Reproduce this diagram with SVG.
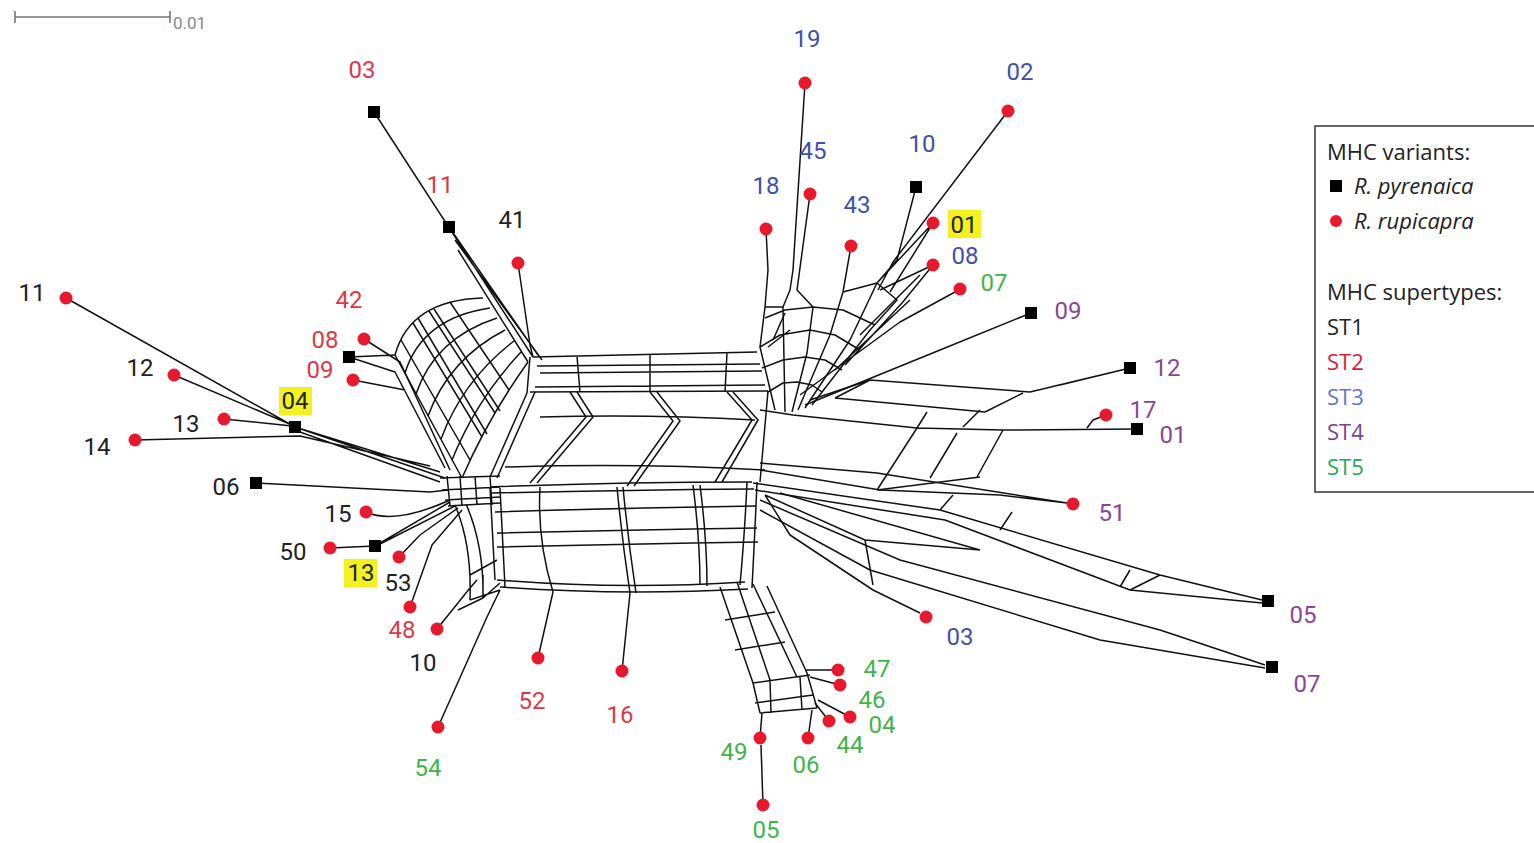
<svg xmlns="http://www.w3.org/2000/svg" width="1534" height="843" viewBox="0 0 1534 843">
<style>
.e{fill:none;stroke:#111;stroke-width:1.5;stroke-linejoin:round}
.sq{fill:#000}
.ci{fill:#e8192c}
text{font-family:Roboto,"Liberation Sans",sans-serif;font-size:24px;text-anchor:middle}
.k{fill:#222}.r{fill:#d83a48}.b{fill:#3f4fb0}.p{fill:#8a4696}.g{fill:#42b34c}
.hl{fill:#f4f21e}
.lg{font-family:"Open Sans","Liberation Sans",sans-serif;font-size:22px;text-anchor:start}
</style>
<rect width="1534" height="843" fill="#fff"/>
<g id="scale">
<path d="M15,17 L170,17 M15,11 L15,23 M170,11 L170,23" stroke="#777" stroke-width="1.6" fill="none"/>
<text x="173" y="29" style="font-size:17px;text-anchor:start;fill:#888">0.01</text>
</g>
<g id="connectors" class="e">
<!-- 11/03 bundle and top-left -->
<path d="M374,112 L533,357 M449,227 L538,355 M455,240 L542,360 M458,250 L528,362"/>
<path d="M518,263 L530,345 L533,357"/>
<!-- left wing -->
<path d="M395,355 Q410,300 483,298 M405,373 Q422,318 490,308 M416,394 Q435,338 497,318 M428,416 Q449,359 505,330 M441,439 Q463,380 514,341 M452,460 Q476,400 521,352 M462,478 Q488,418 528,362"/>
<path d="M401,340 L470,460 M413,323 L482,437 M418,318 L487,434 M429,311 L495,413 M434,309 L500,411 M450,302 L509,390 M395,355 L462,478"/>
<path d="M364,339 L400,362 L450,470 M349,357 L395,372 L445,468 M353,380 L405,390 M349,357 L395,355"/>
<!-- left leaves -->
<path d="M66,298 L295,427 L440,472 M174,375 L292,425 M224,419 L292,426 M295,427 L445,478 M300,432 L440,482 M135,440 L300,436 L430,466 M256,483 L430,492 L448,490"/>
<path d="M366,512 Q395,525 450,500 M330,548 L375,546 M375,546 L450,502 M380,544 L455,506 M399,557 L420,535 L458,508 M410,607 L432,545 L462,510"/>
<!-- left hub knot -->
<path d="M440,478 L500,476 M442,490 L500,487 M445,500 L500,497 M448,506 L500,503 M447,476 L450,506 M460,476 L462,506 M475,476 L477,505 M490,477 L492,505"/>
<!-- bottom-left corner -->
<path d="M455,505 Q472,545 470,600 M466,504 Q484,545 483,598 M470,575 L497,560 M470,600 L500,590 M458,610 L483,598 M483,598 L500,583 M437,629 L470,588 L477,580 M438,727 L487,617 L500,590 M483,575 L483,598"/>
<!-- top band -->
<path d="M533,357 L757,352 M537,366 L760,364 M540,373 L762,371 M535,387 L765,385 M530,392 L768,391 M577,356 L580,392 M650,355 L650,392 M727,353 L725,392 M530,357 L527,393"/>
<!-- middle -->
<path d="M527,393 L490,477 M535,392 L497,478 M540,417 Q650,414 755,420 M505,467 Q640,463 765,470"/>
<path d="M577,392 L593,417 L537,483 M570,392 L586,417 L530,483 M650,392 L673,421 L627,486 M657,392 L680,421 L634,486 M727,392 L752,420 L715,482 M733,392 L758,420 L722,482 M768,391 L760,482"/>
<!-- lower box -->
<path d="M490,487 Q620,482 752,482 M492,493 Q620,490 754,489 M495,512 Q620,508 756,506 M497,533 Q620,530 757,528 M497,547 Q620,544 758,542 M497,580 Q620,590 745,582 M500,587 Q620,596 748,589"/>
<path d="M490,487 L495,580 M500,488 L505,587 M540,487 Q537,540 553,592 M617,487 Q622,540 630,593 M623,487 Q628,540 636,593 M693,485 Q700,540 700,585 M700,485 Q707,540 707,586 M747,482 Q745,530 740,585 M757,482 Q755,530 752,588"/>
<path d="M553,592 L538,658 M630,593 L622,671"/>
<!-- bottom arm -->
<path d="M720,587 L753,683 M737,582 L770,680 M753,584 L797,677 M767,586 L807,673 M753,683 L810,675 M755,703 L813,695 M760,713 L817,708 M753,683 L760,713 M770,680 L771,713 M800,677 L802,710 M807,673 L817,708 M725,620 L775,612 M735,650 L785,642"/>
<path d="M760,738 L762,713 M763,805 L761,745 M808,738 L812,710 M829,721 L815,703 M850,717 L818,700 M840,685 L810,677 M838,670 L805,670"/>
<!-- upper-right arm -->
<path d="M766,229 L768,270 L765,307 L760,347 L775,410 M805,83 L793,270 L790,290 L783,307 L785,412 M810,194 L797,290 L813,307 L807,353 L792,412 M851,246 L843,292 L830,335 L798,410 M843,292 L877,283 L850,340 L805,408 M877,283 L897,300 L870,330 L812,405"/>
<path d="M768,392 L783,383 L797,382 L812,385 L822,392 M762,368 L783,360 L805,357 L825,360 L842,370 M760,347 L780,335 L810,330 L835,335 L860,350 M765,318 L785,310 L813,307 L843,310 L875,325 M765,307 L783,307 M773,340 L785,313 M768,347 L790,330"/>
<path d="M916,187 L897,260 L877,283 M1008,111 L893,262 L878,290 M933,223 L877,283 M933,223 L890,292 M933,265 L880,290 M933,265 L902,303 L845,365 M955,292 L900,322 L800,395 M1031,313 L940,350 L805,405 M920,275 L860,335 M910,300 L835,370"/>
<!-- right fan -->
<path d="M1130,368 L1030,392 L870,380 L810,400 M870,380 L835,398 M1023,393 L985,412 M835,398 L985,412 M1130,368 L1060,385"/>
<path d="M1137,429 L1003,430 L917,428 L793,415 L760,410 M1106,415 L1093,420 L1087,428 M917,428 L877,490 M957,433 L930,478 M1003,430 L977,477 M877,490 L980,477 M927,412 L917,428 M980,410 L963,427"/>
<path d="M760,463 L877,473 L1067,503 M760,470 L880,490 L1000,495 L1067,503"/>
<path d="M753,483 L940,510 L1160,575 L1262,600 M755,490 L945,520 L1130,590 L1262,603 M760,500 L900,560 L1160,630 L1265,665 M760,510 L870,570 L1100,640 L1265,668 M940,510 L953,495 M1000,530 L1012,512 M1120,587 L1130,570 M1130,590 L1160,575"/>
<path d="M765,495 L790,535 L873,590 L920,613 M765,495 L865,540 L873,585 M865,540 L980,550 M780,493 L980,550"/>
</g>
<!-- nodes -->
<g id="n-p03"><rect class="sq" x="368" y="106" width="12" height="12"/><text class="r" x="362" y="78">03</text></g>
<g id="n-p11"><rect class="sq" x="443" y="221" width="12" height="12"/><text class="r" x="440" y="193">11</text></g>
<g id="n-r41"><circle class="ci" cx="518" cy="263" r="6.5"/><text class="k" x="512" y="228">41</text></g>
<g id="n-r42"><circle class="ci" cx="364" cy="339" r="6.5"/><text class="r" x="349" y="308">42</text></g>
<g id="n-p08"><rect class="sq" x="343" y="351" width="12" height="12"/><text class="r" x="325" y="348">08</text></g>
<g id="n-r09"><circle class="ci" cx="353" cy="380" r="6.5"/><text class="r" x="320" y="378">09</text></g>
<g id="n-r11"><circle class="ci" cx="66" cy="298" r="6.5"/><text class="k" x="32" y="301">11</text></g>
<g id="n-r12"><circle class="ci" cx="174" cy="375" r="6.5"/><text class="k" x="140" y="376">12</text></g>
<g id="n-r13"><circle class="ci" cx="224" cy="419" r="6.5"/><text class="k" x="186" y="432">13</text></g>
<g id="n-p04"><rect class="hl" x="279" y="387" width="33" height="28"/><rect class="sq" x="289" y="421" width="12" height="12"/><text class="k" x="295" y="409">04</text></g>
<g id="n-r14"><circle class="ci" cx="135" cy="440" r="6.5"/><text class="k" x="97" y="455">14</text></g>
<g id="n-p06"><rect class="sq" x="250" y="477" width="12" height="12"/><text class="k" x="226" y="495">06</text></g>
<g id="n-r15"><circle class="ci" cx="366" cy="512" r="6.5"/><text class="k" x="338" y="522">15</text></g>
<g id="n-r50"><circle class="ci" cx="330" cy="548" r="6.5"/><text class="k" x="293" y="560">50</text></g>
<g id="n-p13"><rect class="hl" x="344" y="559" width="33" height="28"/><rect class="sq" x="369" y="540" width="12" height="12"/><text class="k" x="361" y="581">13</text></g>
<g id="n-r53"><circle class="ci" cx="399" cy="557" r="6.5"/><text class="k" x="398" y="591">53</text></g>
<g id="n-r48"><circle class="ci" cx="410" cy="607" r="6.5"/><text class="r" x="402" y="638">48</text></g>
<g id="n-r10"><circle class="ci" cx="437" cy="629" r="6.5"/><text class="k" x="423" y="671">10</text></g>
<g id="n-r54"><circle class="ci" cx="438" cy="727" r="6.5"/><text class="g" x="428" y="776">54</text></g>
<g id="n-r52"><circle class="ci" cx="538" cy="658" r="6.5"/><text class="r" x="532" y="709">52</text></g>
<g id="n-r16"><circle class="ci" cx="622" cy="671" r="6.5"/><text class="r" x="620" y="723">16</text></g>
<g id="n-r49"><circle class="ci" cx="760" cy="738" r="6.5"/><text class="g" x="734" y="760">49</text></g>
<g id="n-r05"><circle class="ci" cx="763" cy="805" r="6.5"/><text class="g" x="766" y="838">05</text></g>
<g id="n-r06"><circle class="ci" cx="808" cy="738" r="6.5"/><text class="g" x="806" y="773">06</text></g>
<g id="n-r44"><circle class="ci" cx="829" cy="721" r="6.5"/><text class="g" x="850" y="753">44</text></g>
<g id="n-r04"><circle class="ci" cx="850" cy="717" r="6.5"/><text class="g" x="882" y="733">04</text></g>
<g id="n-r46"><circle class="ci" cx="840" cy="685" r="6.5"/><text class="g" x="872" y="708">46</text></g>
<g id="n-r47"><circle class="ci" cx="838" cy="670" r="6.5"/><text class="g" x="877" y="677">47</text></g>
<g id="n-r03"><circle class="ci" cx="926" cy="617" r="6.5"/><text class="b" x="960" y="645">03</text></g>
<g id="n-p07"><rect class="sq" x="1266" y="661" width="12" height="12"/><text class="p" x="1307" y="692">07</text></g>
<g id="n-p05"><rect class="sq" x="1262" y="595" width="12" height="12"/><text class="p" x="1303" y="623">05</text></g>
<g id="n-r51"><circle class="ci" cx="1073" cy="504" r="6.5"/><text class="p" x="1112" y="521">51</text></g>
<g id="n-r17"><circle class="ci" cx="1106" cy="415" r="6.5"/><text class="p" x="1143" y="418">17</text></g>
<g id="n-p01"><rect class="sq" x="1131" y="423" width="12" height="12"/><text class="p" x="1173" y="443">01</text></g>
<g id="n-p12"><rect class="sq" x="1124" y="362" width="12" height="12"/><text class="p" x="1167" y="376">12</text></g>
<g id="n-p09"><rect class="sq" x="1025" y="307" width="12" height="12"/><text class="p" x="1068" y="319">09</text></g>
<g id="n-r07"><circle class="ci" cx="960" cy="289" r="6.5"/><text class="g" x="994" y="291">07</text></g>
<g id="n-r08"><circle class="ci" cx="933" cy="265" r="6.5"/><text class="b" x="965" y="264">08</text></g>
<g id="n-r01"><rect class="hl" x="948" y="210" width="33" height="28"/><circle class="ci" cx="933" cy="223" r="6.5"/><text class="k" x="964" y="233">01</text></g>
<g id="n-p10"><rect class="sq" x="910" y="181" width="12" height="12"/><text class="b" x="922" y="152">10</text></g>
<g id="n-r02"><circle class="ci" cx="1008" cy="111" r="6.5"/><text class="b" x="1020" y="80">02</text></g>
<g id="n-r43"><circle class="ci" cx="851" cy="246" r="6.5"/><text class="b" x="857" y="213">43</text></g>
<g id="n-r19"><circle class="ci" cx="805" cy="83" r="6.5"/><text class="b" x="807" y="47">19</text></g>
<g id="n-r45"><circle class="ci" cx="810" cy="194" r="6.5"/><text class="b" x="813" y="159">45</text></g>
<g id="n-r18"><circle class="ci" cx="766" cy="229" r="6.5"/><text class="b" x="766" y="194">18</text></g>
<!-- legend -->
<g id="legend">
<rect x="1315" y="126" width="230" height="366" fill="#fff" stroke="#333" stroke-width="1.5"/>
<text class="lg" x="1327" y="160" fill="#222">MHC variants:</text>
<rect class="sq" x="1330" y="180" width="12" height="12"/>
<text class="lg" x="1354" y="194" fill="#222" font-style="italic">R. pyrenaica</text>
<circle class="ci" cx="1336" cy="221" r="6"/>
<text class="lg" x="1354" y="229" fill="#222" font-style="italic">R. rupicapra</text>
<text class="lg" x="1327" y="300" fill="#222">MHC supertypes:</text>
<text class="lg" x="1327" y="335" fill="#222">ST1</text>
<text class="lg" x="1327" y="370" fill="#d81b3a">ST2</text>
<text class="lg" x="1327" y="405" fill="#5a78c8">ST3</text>
<text class="lg" x="1327" y="440" fill="#7b3f8c">ST4</text>
<text class="lg" x="1327" y="475" fill="#22a65a">ST5</text>
</g>
</svg>
